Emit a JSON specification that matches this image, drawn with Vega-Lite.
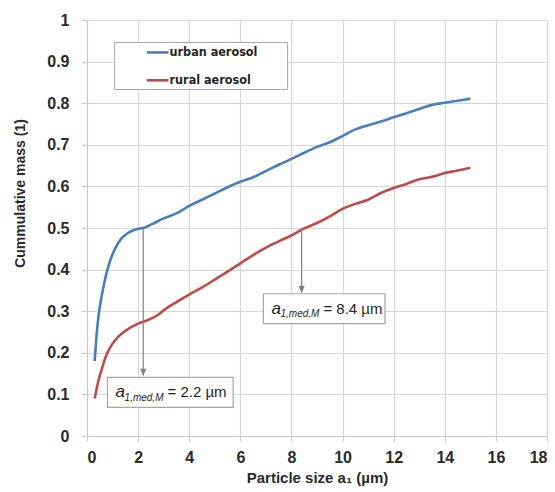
{
  "$schema": "https://vega.github.io/schema/vega-lite/v6.json",
  "width": 460,
  "height": 416,
  "autosize": {"type": "none"},
  "padding": {"left": 87, "top": 20, "right": 8, "bottom": 56},
  "background": "white",
  "config": {"view": {"stroke": null}, "font": "Liberation Sans"},
  "datasets": {
    "curves": [
      {"size": 0.3, "mass": 0.18, "aerosol": "urban aerosol"},
      {"size": 0.4, "mass": 0.26, "aerosol": "urban aerosol"},
      {"size": 0.5, "mass": 0.31, "aerosol": "urban aerosol"},
      {"size": 0.6, "mass": 0.345, "aerosol": "urban aerosol"},
      {"size": 0.7, "mass": 0.375, "aerosol": "urban aerosol"},
      {"size": 0.8, "mass": 0.4, "aerosol": "urban aerosol"},
      {"size": 0.9, "mass": 0.42, "aerosol": "urban aerosol"},
      {"size": 1.0, "mass": 0.437, "aerosol": "urban aerosol"},
      {"size": 1.2, "mass": 0.462, "aerosol": "urban aerosol"},
      {"size": 1.4, "mass": 0.478, "aerosol": "urban aerosol"},
      {"size": 1.6, "mass": 0.488, "aerosol": "urban aerosol"},
      {"size": 1.8, "mass": 0.494, "aerosol": "urban aerosol"},
      {"size": 2.0, "mass": 0.498, "aerosol": "urban aerosol"},
      {"size": 2.2, "mass": 0.5, "aerosol": "urban aerosol"},
      {"size": 2.5, "mass": 0.508, "aerosol": "urban aerosol"},
      {"size": 3.0, "mass": 0.523, "aerosol": "urban aerosol"},
      {"size": 3.5, "mass": 0.535, "aerosol": "urban aerosol"},
      {"size": 4.0, "mass": 0.553, "aerosol": "urban aerosol"},
      {"size": 4.5, "mass": 0.568, "aerosol": "urban aerosol"},
      {"size": 5.0, "mass": 0.583, "aerosol": "urban aerosol"},
      {"size": 5.5, "mass": 0.598, "aerosol": "urban aerosol"},
      {"size": 6.0, "mass": 0.611, "aerosol": "urban aerosol"},
      {"size": 6.5, "mass": 0.622, "aerosol": "urban aerosol"},
      {"size": 7.0, "mass": 0.637, "aerosol": "urban aerosol"},
      {"size": 7.5, "mass": 0.652, "aerosol": "urban aerosol"},
      {"size": 8.0, "mass": 0.666, "aerosol": "urban aerosol"},
      {"size": 8.5, "mass": 0.681, "aerosol": "urban aerosol"},
      {"size": 9.0, "mass": 0.695, "aerosol": "urban aerosol"},
      {"size": 9.5, "mass": 0.706, "aerosol": "urban aerosol"},
      {"size": 10.0, "mass": 0.721, "aerosol": "urban aerosol"},
      {"size": 10.5, "mass": 0.737, "aerosol": "urban aerosol"},
      {"size": 11.0, "mass": 0.747, "aerosol": "urban aerosol"},
      {"size": 11.5, "mass": 0.756, "aerosol": "urban aerosol"},
      {"size": 12.0, "mass": 0.766, "aerosol": "urban aerosol"},
      {"size": 12.5, "mass": 0.776, "aerosol": "urban aerosol"},
      {"size": 13.0, "mass": 0.786, "aerosol": "urban aerosol"},
      {"size": 13.5, "mass": 0.796, "aerosol": "urban aerosol"},
      {"size": 14.0, "mass": 0.801, "aerosol": "urban aerosol"},
      {"size": 14.5, "mass": 0.806, "aerosol": "urban aerosol"},
      {"size": 15.0, "mass": 0.811, "aerosol": "urban aerosol"},
      {"size": 0.3, "mass": 0.09, "aerosol": "rural aerosol"},
      {"size": 0.4, "mass": 0.12, "aerosol": "rural aerosol"},
      {"size": 0.5, "mass": 0.145, "aerosol": "rural aerosol"},
      {"size": 0.6, "mass": 0.165, "aerosol": "rural aerosol"},
      {"size": 0.7, "mass": 0.185, "aerosol": "rural aerosol"},
      {"size": 0.8, "mass": 0.2, "aerosol": "rural aerosol"},
      {"size": 1.0, "mass": 0.222, "aerosol": "rural aerosol"},
      {"size": 1.2, "mass": 0.237, "aerosol": "rural aerosol"},
      {"size": 1.4, "mass": 0.248, "aerosol": "rural aerosol"},
      {"size": 1.6, "mass": 0.257, "aerosol": "rural aerosol"},
      {"size": 1.8, "mass": 0.264, "aerosol": "rural aerosol"},
      {"size": 2.0, "mass": 0.27, "aerosol": "rural aerosol"},
      {"size": 2.4, "mass": 0.279, "aerosol": "rural aerosol"},
      {"size": 2.8, "mass": 0.292, "aerosol": "rural aerosol"},
      {"size": 3.0, "mass": 0.302, "aerosol": "rural aerosol"},
      {"size": 3.5, "mass": 0.322, "aerosol": "rural aerosol"},
      {"size": 4.0, "mass": 0.34, "aerosol": "rural aerosol"},
      {"size": 4.5, "mass": 0.357, "aerosol": "rural aerosol"},
      {"size": 5.0, "mass": 0.376, "aerosol": "rural aerosol"},
      {"size": 5.5, "mass": 0.395, "aerosol": "rural aerosol"},
      {"size": 6.0, "mass": 0.415, "aerosol": "rural aerosol"},
      {"size": 6.5, "mass": 0.435, "aerosol": "rural aerosol"},
      {"size": 7.0, "mass": 0.453, "aerosol": "rural aerosol"},
      {"size": 7.5, "mass": 0.468, "aerosol": "rural aerosol"},
      {"size": 8.0, "mass": 0.482, "aerosol": "rural aerosol"},
      {"size": 8.4, "mass": 0.496, "aerosol": "rural aerosol"},
      {"size": 9.0, "mass": 0.512, "aerosol": "rural aerosol"},
      {"size": 9.5, "mass": 0.528, "aerosol": "rural aerosol"},
      {"size": 10.0, "mass": 0.546, "aerosol": "rural aerosol"},
      {"size": 10.5, "mass": 0.558, "aerosol": "rural aerosol"},
      {"size": 11.0, "mass": 0.568, "aerosol": "rural aerosol"},
      {"size": 11.5, "mass": 0.584, "aerosol": "rural aerosol"},
      {"size": 12.0, "mass": 0.596, "aerosol": "rural aerosol"},
      {"size": 12.5, "mass": 0.606, "aerosol": "rural aerosol"},
      {"size": 13.0, "mass": 0.617, "aerosol": "rural aerosol"},
      {"size": 13.5, "mass": 0.623, "aerosol": "rural aerosol"},
      {"size": 14.0, "mass": 0.632, "aerosol": "rural aerosol"},
      {"size": 14.5, "mass": 0.638, "aerosol": "rural aerosol"},
      {"size": 15.0, "mass": 0.645, "aerosol": "rural aerosol"}
    ],
    "legendBox": [{"x0": 1.08, "x1": 7.85, "y0": 0.946, "y1": 0.833}],
    "legendItems": [
      {"aerosol": "urban aerosol", "x0": 2.34, "x1": 3.19, "y": 0.922},
      {"aerosol": "rural aerosol", "x0": 2.34, "x1": 3.19, "y": 0.855}
    ],
    "arrows": [
      {"size": 2.2, "top": 0.5, "tip": 0.145},
      {"size": 8.4, "top": 0.496, "tip": 0.344}
    ],
    "boxes": [
      {"x0": 0.8, "x1": 5.72, "y0": 0.141, "y1": 0.069},
      {"x0": 6.9, "x1": 11.66, "y0": 0.342, "y1": 0.27}
    ],
    "labels": [
      {"x": 1.12, "y": 0.105, "part": "symbol", "text": "a"},
      {"x": 1.47, "y": 0.092, "part": "sub", "text": "1,med,M"},
      {"x": 3.15, "y": 0.105, "part": "value", "text": "= 2.2 µm"},
      {"x": 7.22, "y": 0.306, "part": "symbol", "text": "a"},
      {"x": 7.57, "y": 0.293, "part": "sub", "text": "1,med,M"},
      {"x": 9.25, "y": 0.306, "part": "value", "text": "= 8.4 µm"}
    ]
  },
  "layer": [
    {
      "data": {"name": "curves"},
      "mark": {"type": "line", "strokeWidth": 2.6, "interpolate": "monotone"},
      "encoding": {
        "x": {
          "field": "size", "type": "quantitative",
          "scale": {"domain": [0, 18], "nice": false},
          "axis": {
            "values": [0, 2, 4, 6, 8, 10, 12, 14, 16, 18],
            "grid": true, "gridColor": "#d6d6d6", "gridWidth": 1.2,
            "domainColor": "#c8c8c8", "tickColor": "#c8c8c8", "tickSize": 5,
            "labelFont": "Liberation Sans", "labelFontWeight": "bold", "labelFontSize": 16,
            "labelColor": "#2a2a2a", "labelPadding": 8,
            "title": "Particle size a₁ (µm)",
            "titleFont": "Liberation Sans", "titleFontWeight": "bold", "titleFontSize": 15,
            "titleColor": "#2a2a2a", "titleBaseline": "alphabetic", "titleY": 46
          }
        },
        "y": {
          "field": "mass", "type": "quantitative",
          "scale": {"domain": [0, 1], "nice": false},
          "axis": {
            "values": [0, 0.1, 0.2, 0.3, 0.4, 0.5, 0.6, 0.7, 0.8, 0.9, 1],
            "format": ".1~f",
            "grid": true, "gridColor": "#d6d6d6", "gridWidth": 1.2,
            "domainColor": "#c8c8c8", "tickColor": "#c8c8c8", "tickSize": 6,
            "labelFont": "Liberation Sans", "labelFontWeight": "bold", "labelFontSize": 16,
            "labelColor": "#2a2a2a", "labelPadding": 12,
            "title": "Cummulative mass (1)",
            "titleFont": "Liberation Sans", "titleFontWeight": "bold", "titleFontSize": 14,
            "titleColor": "#2a2a2a", "titleAngle": -90, "titleAlign": "center",
            "titleBaseline": "alphabetic", "titleX": -63, "titleY": 173
          }
        },
        "color": {
          "field": "aerosol", "type": "nominal",
          "scale": {"domain": ["urban aerosol", "rural aerosol"], "range": ["#4a7ebb", "#be4b48"]},
          "legend": null
        },
        "detail": {"field": "aerosol"}
      }
    },
    {
      "data": {"name": "legendBox"},
      "mark": {"type": "rect", "fill": "white", "stroke": "#a6a6a6", "strokeWidth": 1},
      "encoding": {
        "x": {"field": "x0", "type": "quantitative"},
        "x2": {"field": "x1"},
        "y": {"field": "y0", "type": "quantitative"},
        "y2": {"field": "y1"}
      }
    },
    {
      "data": {"name": "legendItems"},
      "mark": {"type": "rule", "strokeWidth": 2.6},
      "encoding": {
        "x": {"field": "x0", "type": "quantitative"},
        "x2": {"field": "x1"},
        "y": {"field": "y", "type": "quantitative"},
        "color": {"field": "aerosol", "type": "nominal", "legend": null}
      }
    },
    {
      "data": {"name": "legendItems"},
      "mark": {
        "type": "text", "align": "left", "baseline": "middle", "dx": 1,
        "font": "DejaVu Sans Condensed", "fontWeight": "bold", "fontSize": 12.5, "color": "#262626"
      },
      "encoding": {
        "x": {"field": "x1", "type": "quantitative"},
        "y": {"field": "y", "type": "quantitative"},
        "text": {"field": "aerosol"}
      }
    },
    {
      "data": {"name": "arrows"},
      "mark": {"type": "rule", "color": "#808080", "strokeWidth": 1.2},
      "encoding": {
        "x": {"field": "size", "type": "quantitative"},
        "y": {"field": "top", "type": "quantitative"},
        "y2": {"field": "tip"}
      }
    },
    {
      "data": {"name": "arrows"},
      "mark": {"type": "point", "shape": "M-0.9,-2L0.9,-2L0,0Z", "size": 49, "filled": true, "color": "#808080", "opacity": 1},
      "encoding": {
        "x": {"field": "size", "type": "quantitative"},
        "y": {"field": "tip", "type": "quantitative"}
      }
    },
    {
      "data": {"name": "boxes"},
      "mark": {"type": "rect", "fill": "white", "stroke": "#a6a6a6", "strokeWidth": 1.2},
      "encoding": {
        "x": {"field": "x0", "type": "quantitative"},
        "x2": {"field": "x1"},
        "y": {"field": "y0", "type": "quantitative"},
        "y2": {"field": "y1"}
      }
    },
    {
      "data": {"name": "labels"},
      "transform": [{"filter": "datum.part === 'symbol'"}],
      "mark": {"type": "text", "align": "left", "baseline": "middle", "font": "Liberation Sans", "fontStyle": "italic", "fontSize": 17, "color": "#1e1e1e"},
      "encoding": {
        "x": {"field": "x", "type": "quantitative"},
        "y": {"field": "y", "type": "quantitative"},
        "text": {"field": "text"}
      }
    },
    {
      "data": {"name": "labels"},
      "transform": [{"filter": "datum.part === 'sub'"}],
      "mark": {"type": "text", "align": "left", "baseline": "middle", "font": "Liberation Sans", "fontStyle": "italic", "fontSize": 10, "color": "#1e1e1e"},
      "encoding": {
        "x": {"field": "x", "type": "quantitative"},
        "y": {"field": "y", "type": "quantitative"},
        "text": {"field": "text"}
      }
    },
    {
      "data": {"name": "labels"},
      "transform": [{"filter": "datum.part === 'value'"}],
      "mark": {"type": "text", "align": "left", "baseline": "middle", "font": "Liberation Sans", "fontSize": 15, "color": "#1e1e1e"},
      "encoding": {
        "x": {"field": "x", "type": "quantitative"},
        "y": {"field": "y", "type": "quantitative"},
        "text": {"field": "text"}
      }
    }
  ]
}
